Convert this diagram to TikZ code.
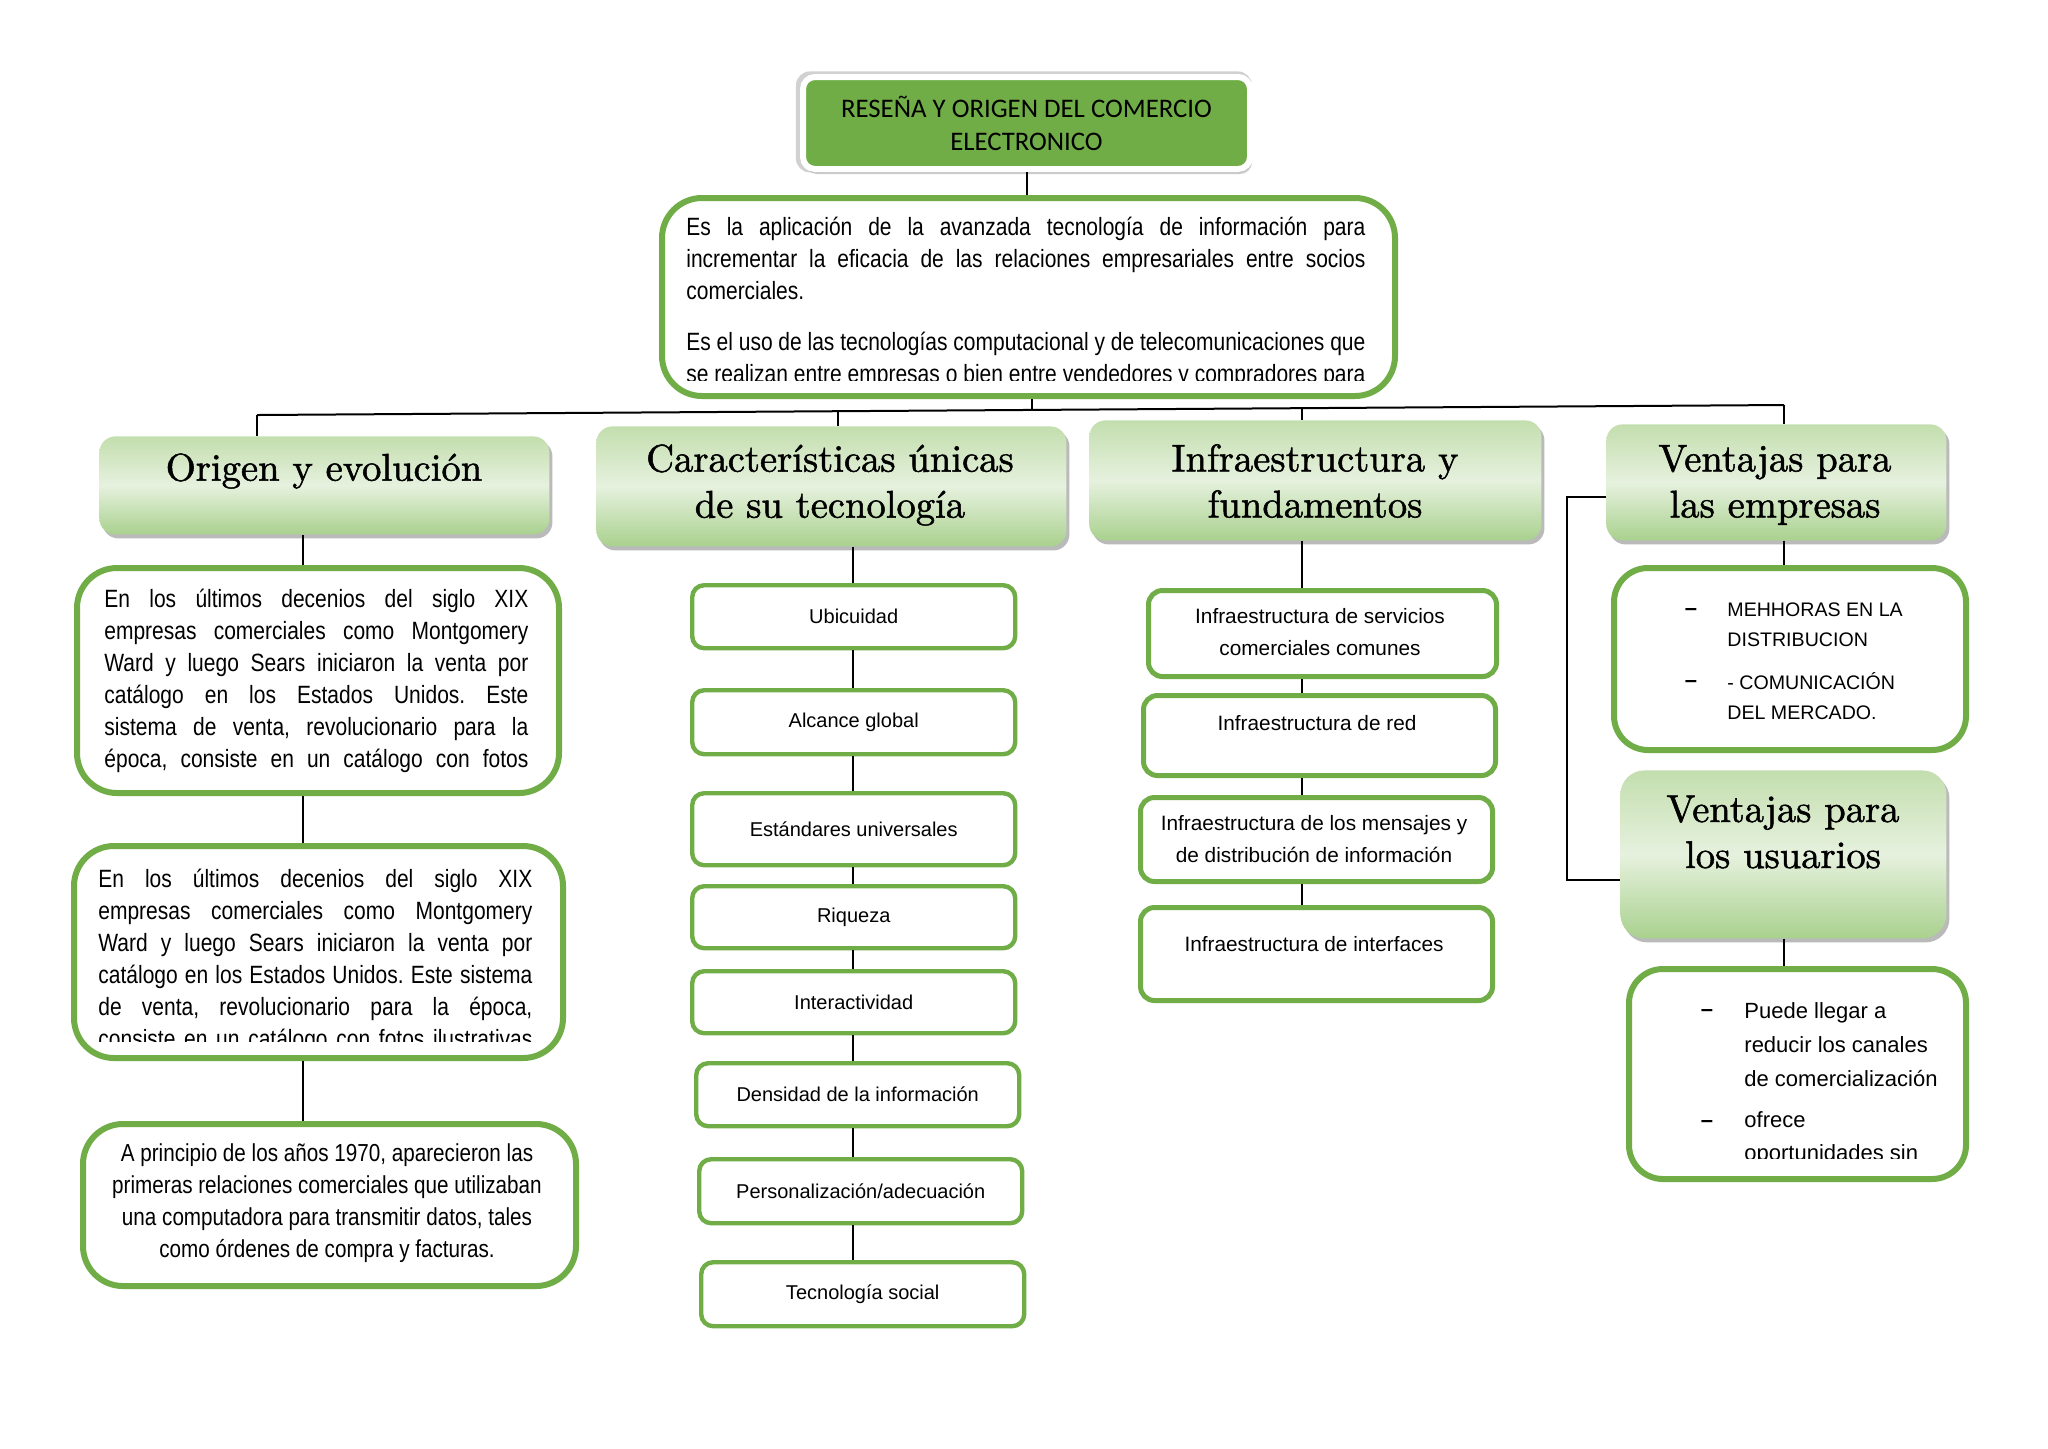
\documentclass[tikz,border=0pt]{standalone}
\usepackage{fontspec}
\newfontfamily\narrowf[FakeStretch=0.84]{Liberation Sans}
\newfontfamily\arialf{Liberation Sans}
\newfontfamily\calf{Carlito}
\newfontfamily\headf[FakeBold=1.3]{lmroman10-regular.otf}
\usetikzlibrary{shadows}
\definecolor{ogreen}{HTML}{70AD47}
\definecolor{htop}{HTML}{C3DEAE}
\definecolor{hmid}{HTML}{E6F1DE}
\definecolor{hbot}{HTML}{A9D18E}
\newcommand\jl[1]{\makebox[\linewidth][s]{#1}\par}
\frenchspacing
\begin{document}
\begin{tikzpicture}[x=0.5pt,y=-0.5pt,
 gbox/.style={draw=ogreen, line width=3pt, rounded corners=20pt, fill=white, inner sep=0pt, anchor=north west},
 cbox/.style={draw=ogreen, line width=2.2pt, rounded corners=6pt, fill=white, inner sep=0pt, anchor=north west, font=\arialf\fontsize{10}{12}\selectfont},
 ibox/.style={draw=ogreen, line width=2.5pt, rounded corners=7pt, fill=white, inner sep=0pt, anchor=north west},
 vbox/.style={draw=ogreen, line width=3pt, rounded corners=17pt, fill=white, inner sep=0pt, anchor=north west},
 hbox/.style={rounded corners=8pt, top color=htop, bottom color=hbot, middle color=hmid, inner sep=0pt, anchor=north west, drop shadow={shadow xshift=1.5pt, shadow yshift=-2pt, fill=black!45, opacity=0.6}},
 htext/.style={font=\headf\fontsize{19.3}{23}\selectfont, align=center, inner sep=0pt},
 itext/.style={font=\arialf\fontsize{10.4}{16}\selectfont, align=center, inner sep=0pt},
 ptext/.style={anchor=base west, inner sep=0pt},
 dashn/.style={font=\arialf\bfseries\fontsize{11}{12}\selectfont, inner sep=0pt},
 conn/.style={draw=black, line width=1pt},
 ]
\useasboundingbox (0,0) rectangle (2048,1448);
\fill[white] (0,0) rectangle (2048,1448);

% title
\node[fill=black!18, rounded corners=7pt, minimum width=228pt, minimum height=50.5pt, inner sep=0pt, anchor=north west] (titlebg) at (795.5,71) {};
\node[draw=white, line width=3pt, fill=ogreen, rounded corners=6pt, minimum width=223.5pt, minimum height=46pt, inner sep=0pt, anchor=north west, drop shadow={shadow xshift=1pt, shadow yshift=-2.5pt, fill=black!40}, font=\calf\fontsize{13.4}{16.5}\selectfont, align=center] (title) at (800,74) {RESEÑA Y ORIGEN DEL COMERCIO\\ELECTRONICO};

% description
\node[gbox, minimum width=366.5pt, minimum height=99pt] (desc) at (659,195) {};
\begin{scope}
\clip (662,198) rectangle (1389,380);
\node[ptext] (desct) at (686,235) {\parbox[t]{339.5pt}{\narrowf\fontsize{12.5}{16}\selectfont
\jl{Es la aplicación de la avanzada tecnología de información para}
\jl{incrementar la eficacia de las relaciones empresariales entre socios}
comerciales.\par\vspace{9.5pt}
\jl{Es el uso de las tecnologías computacional y de telecomunicaciones que}
\jl{se realizan entre empresas o bien entre vendedores y compradores para}}};
\end{scope}

% headers
\node[hbox, minimum width=225pt, minimum height=49pt] (hOri) at (99,436) {};
\node[htext] (tOri) at (324,471) {Origen y evolución};
\node[hbox, minimum width=235pt, minimum height=60pt] (hCar) at (596,426) {};
\node[htext] (tCar) at (830,485) {Características únicas\\de su tecnología};
\node[hbox, minimum width=226pt, minimum height=60pt] (hInf) at (1089,420) {};
\node[htext] (tInf) at (1315,481) {Infraestructura y\\fundamentos};
\node[hbox, minimum width=170pt, minimum height=58pt] (hVE) at (1606,424) {};
\node[htext] (tVE) at (1775,485) {Ventajas para\\las empresas};
\node[hbox, rounded corners=12pt, minimum width=163pt, minimum height=84pt] (hVU) at (1620,770) {};
\node[htext] (tVU) at (1783,832) {Ventajas para\\los usuarios};

% left column
\node[gbox, minimum width=241pt, minimum height=112.5pt] (a1) at (74,565) {};
\node[ptext] (a1t) at (104,607) {\parbox[t]{212pt}{\narrowf\fontsize{12.5}{16}\selectfont
\jl{En los últimos decenios del siglo XIX}
\jl{empresas comerciales como Montgomery}
\jl{Ward y luego Sears iniciaron la venta por}
\jl{catálogo en los Estados Unidos. Este}
\jl{sistema de venta, revolucionario para la}
\jl{época, consiste en un catálogo con fotos}}};

\node[gbox, minimum width=244.5pt, minimum height=106pt] (a2) at (71,843) {};
\begin{scope}
\clip (74,846) rectangle (557,1041);
\node[ptext] (a2t) at (98,887) {\parbox[t]{217pt}{\narrowf\fontsize{12.5}{16}\selectfont
\jl{En los últimos decenios del siglo XIX}
\jl{empresas comerciales como Montgomery}
\jl{Ward y luego Sears iniciaron la venta por}
\jl{catálogo en los Estados Unidos. Este sistema}
\jl{de venta, revolucionario para la época,}
\jl{consiste en un catálogo con fotos ilustrativas}}};
\end{scope}

\node[gbox, minimum width=246.5pt, minimum height=81pt] (a3) at (80,1121) {};
\node[anchor=base, inner sep=0pt] (a3t) at (327,1161) {\parbox[t]{240pt}{\centering\narrowf\fontsize{12.3}{16}\selectfont
A principio de los años 1970, aparecieron las\\
primeras relaciones comerciales que utilizaban\\
una computadora para transmitir datos, tales\\
como órdenes de compra y facturas.}};

% characteristics column
\node[cbox, minimum width=161.5pt, minimum height=31.5pt] (ubi) at (690,583) {Ubicuidad};
\node[cbox, minimum width=161.5pt, minimum height=32pt] (alc) at (690,688) {Alcance global};
\node[cbox, minimum width=161.5pt, minimum height=36pt] (est) at (690,791) {Estándares universales};
\node[cbox, minimum width=161.5pt, minimum height=31pt] (riq) at (690,884) {Riqueza};
\node[cbox, minimum width=161.5pt, minimum height=31pt] (int) at (690,969) {Interactividad};
\node[cbox, minimum width=161.5pt, minimum height=31.5pt] (den) at (694,1061) {Densidad de la información};
\node[cbox, minimum width=161.5pt, minimum height=32pt] (per) at (697,1157) {Personalización/adecuación};
\node[cbox, minimum width=161.5pt, minimum height=32pt] (tec) at (699,1260) {Tecnología social};

% infrastructure column
\node[ibox, minimum width=174pt, minimum height=43pt] (i1) at (1146,588) {};
\node[itext] (i1t) at (1320,632) {Infraestructura de servicios\\comerciales comunes};
\node[ibox, minimum width=176pt, minimum height=40pt] (i2) at (1141,693) {};
\node[itext] (i2t) at (1317,723) {Infraestructura de red};
\node[ibox, minimum width=176pt, minimum height=42pt] (i3) at (1138,795) {};
\node[itext] (i3t) at (1314,839) {Infraestructura de los mensajes y\\de distribución de información};
\node[ibox, minimum width=176pt, minimum height=46.5pt] (i4) at (1138,905) {};
\node[itext] (i4t) at (1314,944) {Infraestructura de interfaces};

% ventajas
\node[vbox, minimum width=176pt, minimum height=91pt] (e1) at (1611,565) {};
\node[dashn] (e1d1) at (1691,612) {–};
\node[ptext, font=\arialf\fontsize{9.8}{15}\selectfont] (e1a) at (1727,616) {\parbox[t]{115pt}{\raggedright MEHHORAS EN LA\\DISTRIBUCION}};
\node[dashn] (e1d2) at (1691,684) {–};
\node[ptext, font=\arialf\fontsize{9.8}{15}\selectfont] (e1b) at (1727,689) {\parbox[t]{115pt}{\raggedright - COMUNICACIÓN\\DEL MERCADO.}};

\node[vbox, minimum width=168.5pt, minimum height=105pt] (u1) at (1626,966) {};
\node[dashn] (u1d1) at (1707,1013) {–};
\node[ptext, font=\arialf\fontsize{11}{17}\selectfont] (u1a) at (1744,1018) {\parbox[t]{110pt}{\raggedright Puede llegar a\\reducir los canales\\de comercialización}};
\node[dashn] (u1d2) at (1707,1124) {–};
\begin{scope}
\clip (1630,970) rectangle (1960,1158);
\node[ptext, font=\arialf\fontsize{11}{16.5}\selectfont] (u1b) at (1744,1127) {\parbox[t]{110pt}{\raggedright ofrece\\oportunidades sin}};
\end{scope}

% connectors
\coordinate (hl) at (257,415);
\coordinate (hr) at (1784,405);
\coordinate (hd) at (1032,409.9);
\coordinate (hc) at (838,411.2);
\coordinate (hi) at (1302,408.2);
\coordinate (lx) at (303,0);
\coordinate (cx) at (853,0);
\coordinate (ix) at (1302,0);
\coordinate (vx) at (1784,0);
\draw[conn] (title.south) -- (title.south |- desc.north);
\draw[conn] (hd |- desc.south) -- (hd);
\draw[conn] (hl) -- (hr);
\draw[conn] (hl) -- (hl |- hOri.north);
\draw[conn] (hc) -- (hc |- hCar.north);
\draw[conn] (hi) -- (hi |- hInf.north);
\draw[conn] (hr) -- (hr |- hVE.north);
\draw[conn] (lx |- hOri.south) -- (lx |- a1.north);
\draw[conn] (lx |- a1.south) -- (lx |- a2.north);
\draw[conn] (lx |- a2.south) -- (lx |- a3.north);
\draw[conn] (cx |- hCar.south) -- (cx |- ubi.north);
\draw[conn] (cx |- ubi.south) -- (cx |- alc.north);
\draw[conn] (cx |- alc.south) -- (cx |- est.north);
\draw[conn] (cx |- est.south) -- (cx |- riq.north);
\draw[conn] (cx |- riq.south) -- (cx |- int.north);
\draw[conn] (cx |- int.south) -- (cx |- den.north);
\draw[conn] (cx |- den.south) -- (cx |- per.north);
\draw[conn] (cx |- per.south) -- (cx |- tec.north);
\draw[conn] (ix |- hInf.south) -- (ix |- i1.north);
\draw[conn] (ix |- i1.south) -- (ix |- i2.north);
\draw[conn] (ix |- i2.south) -- (ix |- i3.north);
\draw[conn] (ix |- i3.south) -- (ix |- i4.north);
\draw[conn] (vx |- hVE.south) -- (vx |- e1.north);
\draw[conn] (vx |- hVU.south) -- (vx |- u1.north);
\draw[conn] ([yshift=-7.5pt]hVE.west) -- ++(-39,0) |- ([yshift=-13pt]hVU.west);
\end{tikzpicture}
\end{document}
